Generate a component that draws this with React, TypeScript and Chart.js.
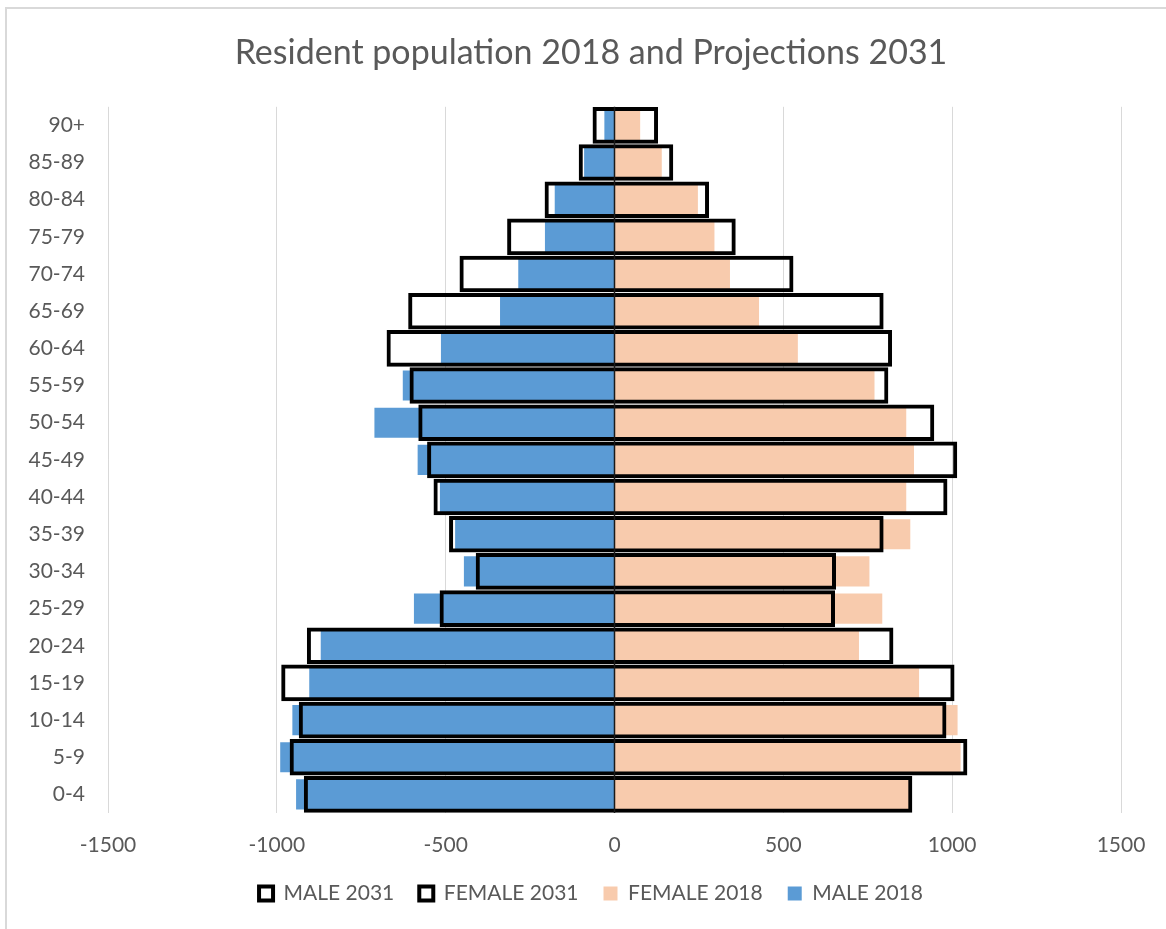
import React, { useEffect, useRef } from 'react';
import { Chart, registerables } from 'chart.js';

Chart.register(...registerables);

const ageGroups = ['0-4', '5-9', '10-14', '15-19', '20-24', '25-29', '30-34', '35-39', '40-44', '45-49', '50-54', '55-59', '60-64', '65-69', '70-74', '75-79', '80-84', '85-89', '90+'];
const male2018 = [943, 990, 954, 904, 870, 594, 446, 472, 517, 583, 711, 627, 514, 339, 285, 206, 177, 90, 30];
const male2031 = [920, 962, 935, 987, 911, 518, 411, 490, 536, 555, 581, 607, 675, 611, 459, 318, 207, 106, 65];
const female2018 = [876, 1025, 1016, 902, 724, 793, 755, 876, 864, 887, 864, 770, 543, 428, 342, 296, 247, 140, 76];
const female2031 = [882, 1045, 983, 1007, 826, 653, 656, 797, 986, 1015, 947, 811, 822, 797, 530, 359, 280, 174, 129];
const xTickValues = [-1500, -1000, -500, 0, 500, 1000, 1500];

const TEXT = '#595959';
const FONT = 'Lato';

const zeroLine = {
  id: 'zeroLine',
  afterDatasetsDraw(chart: any) {
    const ctx = chart.ctx;
    const x = chart.scales.x.getPixelForValue(0);
    const { top, bottom } = chart.chartArea;
    ctx.save();
    ctx.strokeStyle = '#1a1a1a';
    ctx.lineWidth = 1.5;
    ctx.beginPath();
    ctx.moveTo(x, top);
    ctx.lineTo(x, bottom);
    ctx.stroke();
    ctx.restore();
  },
};

export default function App() {
  const ref = useRef<HTMLCanvasElement | null>(null);

  useEffect(() => {
    if (!ref.current) return;
    const chart = new Chart(ref.current, {
      type: 'bar',
      data: {
        labels: ageGroups,
        datasets: [
          {
            label: 'MALE 2031',
            data: male2031.map((v) => -v),
            backgroundColor: 'rgba(0,0,0,0)',
            borderColor: '#000000',
            borderWidth: 4,
            borderSkipped: 'start',
            grouped: false,
            barPercentage: 0.985,
            categoryPercentage: 1,
          },
          {
            label: 'FEMALE 2031',
            data: female2031,
            backgroundColor: 'rgba(0,0,0,0)',
            borderColor: '#000000',
            borderWidth: 4,
            borderSkipped: 'start',
            grouped: false,
            barPercentage: 0.985,
            categoryPercentage: 1,
          },
          {
            label: 'FEMALE 2018',
            data: female2018,
            backgroundColor: '#F8CBAD',
            borderWidth: 0,
            grouped: false,
            barPercentage: 0.81,
            categoryPercentage: 1,
          },
          {
            label: 'MALE 2018',
            data: male2018.map((v) => -v),
            backgroundColor: '#5B9BD5',
            borderWidth: 0,
            grouped: false,
            barPercentage: 0.81,
            categoryPercentage: 1,
          },
        ],
      } as any,
      options: {
        indexAxis: 'y',
        animation: false,
        responsive: false,
        maintainAspectRatio: false,
        layout: { padding: { left: 0, right: 18, top: 0, bottom: 15 } },
        plugins: {
          title: {
            display: true,
            text: 'Resident population 2018 and Projections 2031',
            color: TEXT,
            font: { family: FONT, size: 34, weight: 'normal' },
            padding: { top: 33, bottom: 33 },
          },
          legend: {
            position: 'bottom',
            labels: {
              boxWidth: 14,
              boxHeight: 14,
              padding: 25,
              color: TEXT,
              font: { family: FONT, size: 21 },
            },
          },
          tooltip: { enabled: false },
        },
        scales: {
          x: {
            type: 'linear',
            min: xTickValues[0],
            max: xTickValues[xTickValues.length - 1],
            afterBuildTicks: (s: any) => {
              s.ticks = xTickValues.map((v) => ({ value: v }));
            },
            ticks: {
              color: TEXT,
              font: { family: FONT, size: 21 },
              padding: 20,
              maxRotation: 0,
              callback: (v: any) => String(v),
            },
            grid: { color: '#d9d9d9', lineWidth: 1, drawTicks: false },
            border: { display: false },
            afterFit: (s: any) => {
              s.height = 45;
            },
          },
          y: {
            type: 'category',
            position: 'left',
            reverse: true,
            ticks: {
              color: TEXT,
              font: { family: FONT, size: 21 },
              padding: 23,
              autoSkip: false,
            },
            grid: { display: false, drawTicks: false },
            border: { display: false },
            afterFit: (s: any) => {
              s.width = 108;
            },
          },
          ySpacer: {
            type: 'category',
            position: 'right',
            labels: ageGroups,
            ticks: { display: false },
            grid: { display: false, drawTicks: false },
            border: { display: false },
            afterFit: (s: any) => {
              s.width = 61;
            },
          },
        },
      } as any,
      plugins: [zeroLine],
    });
    return () => chart.destroy();
  }, []);

  return (
    <div
      style={{
        position: 'fixed',
        left: 0,
        top: 0,
        width: 1166,
        height: 929,
        overflow: 'hidden',
        background: '#ffffff',
      }}
    >
      <div
        style={{
          position: 'absolute',
          left: 5,
          top: 7,
          width: 1250,
          height: 1000,
          border: '2px solid #d9d9d9',
          boxSizing: 'border-box',
        }}
      />
      <canvas
        ref={ref}
        width={1200}
        height={929}
        style={{ position: 'absolute', left: 0, top: 0, display: 'block' }}
      />
    </div>
  );
}
